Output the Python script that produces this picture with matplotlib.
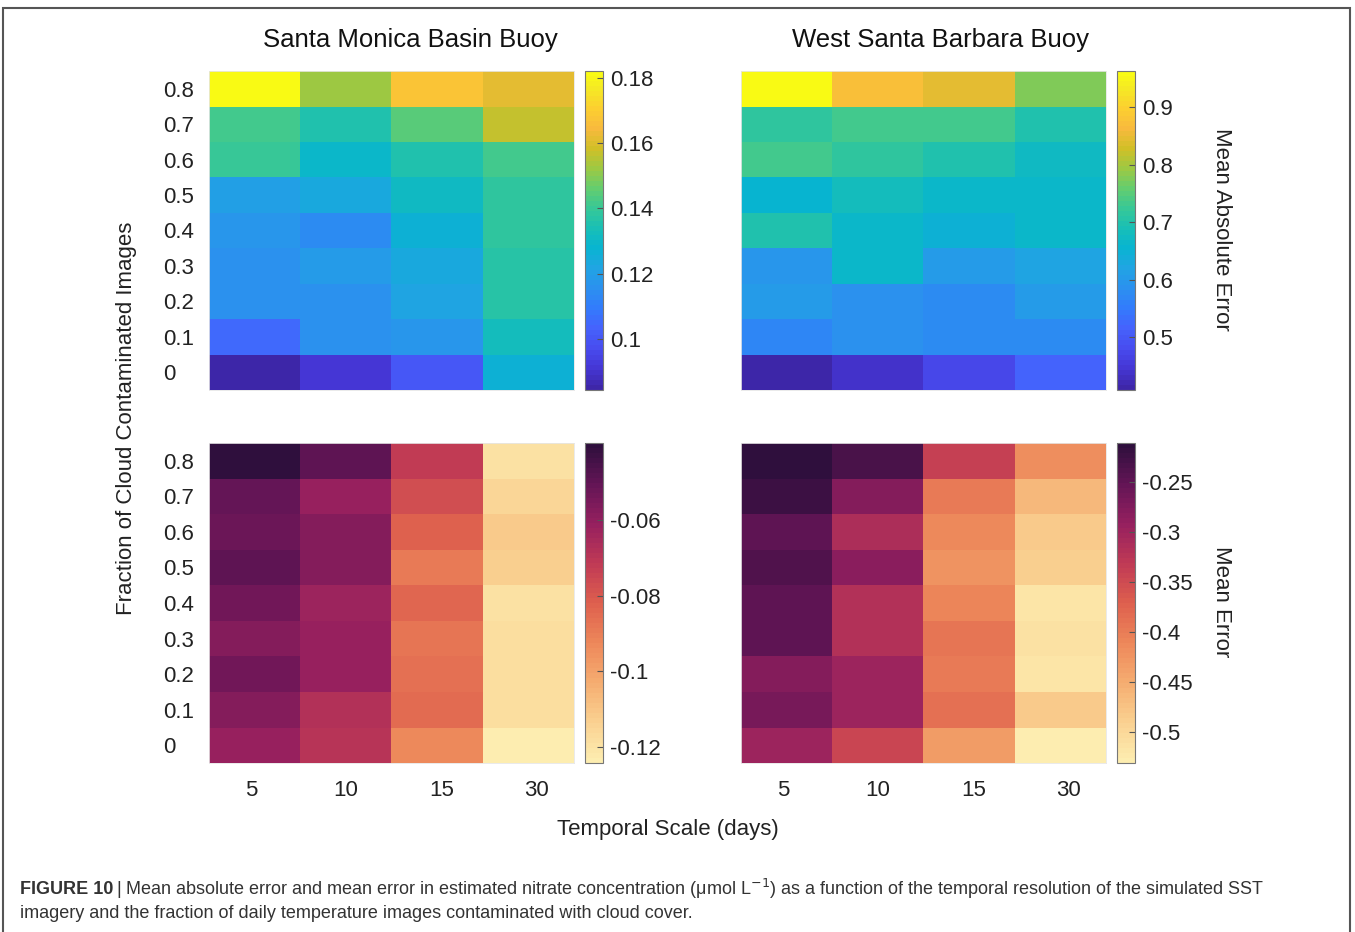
import numpy as np
import matplotlib
matplotlib.use("Agg")
import matplotlib.pyplot as plt
from matplotlib.colors import LinearSegmentedColormap
from matplotlib.patches import Rectangle
from matplotlib.ticker import FormatStrFormatter
from matplotlib import font_manager

plt.rcParams["font.family"] = ["Liberation Sans", "DejaVu Sans"]
plt.rcParams["axes.unicode_minus"] = False

# rows: fraction of cloud contaminated images, columns: temporal scale
frac_labels = ["0", "0.1", "0.2", "0.3", "0.4", "0.5", "0.6", "0.7", "0.8"]
scale_labels = ["5", "10", "15", "30"]

# Santa Monica Basin, mean absolute error (row 0 = fraction 0)
sm_mae = [
    [0.0845, 0.091, 0.100, 0.127],
    [0.105, 0.115, 0.117, 0.133],
    [0.115, 0.115, 0.122, 0.137],
    [0.116, 0.119, 0.124, 0.137],
    [0.118, 0.114, 0.127, 0.139],
    [0.121, 0.124, 0.131, 0.138],
    [0.140, 0.130, 0.136, 0.141],
    [0.141, 0.135, 0.145, 0.157],
    [0.182, 0.153, 0.167, 0.162],
]
# West Santa Barbara, mean absolute error
wsb_mae = [
    [0.408, 0.440, 0.470, 0.520],
    [0.570, 0.590, 0.575, 0.575],
    [0.600, 0.590, 0.575, 0.605],
    [0.595, 0.660, 0.600, 0.620],
    [0.695, 0.665, 0.650, 0.660],
    [0.655, 0.685, 0.665, 0.665],
    [0.735, 0.715, 0.700, 0.675],
    [0.720, 0.735, 0.735, 0.700],
    [0.963, 0.870, 0.850, 0.775],
]
# Santa Monica Basin, mean error
sm_me = [
    [-0.062, -0.070, -0.093, -0.1242],
    [-0.058, -0.068, -0.085, -0.118],
    [-0.053, -0.062, -0.087, -0.118],
    [-0.058, -0.062, -0.088, -0.118],
    [-0.053, -0.063, -0.084, -0.119],
    [-0.050, -0.057, -0.089, -0.113],
    [-0.052, -0.058, -0.082, -0.112],
    [-0.051, -0.062, -0.077, -0.116],
    [-0.0397, -0.050, -0.072, -0.119],
]
# West Santa Barbara, mean error
wsb_me = [
    [-0.297, -0.345, -0.435, -0.531],
    [-0.269, -0.297, -0.390, -0.483],
    [-0.278, -0.297, -0.397, -0.518],
    [-0.249, -0.317, -0.392, -0.515],
    [-0.249, -0.317, -0.409, -0.521],
    [-0.237, -0.285, -0.425, -0.489],
    [-0.246, -0.313, -0.413, -0.483],
    [-0.224, -0.278, -0.397, -0.461],
    [-0.211, -0.233, -0.339, -0.419],
]

sm_mae_ticks = [0.1, 0.12, 0.14, 0.16, 0.18]
wsb_mae_ticks = [0.5, 0.6, 0.7, 0.8, 0.9]
sm_me_ticks = [-0.12, -0.1, -0.08, -0.06]
wsb_me_ticks = [-0.5, -0.45, -0.4, -0.35, -0.3, -0.25]

# parula-like map (64 levels)
parula_pts = [
    (0.2422, 0.1504, 0.6603), (0.2706, 0.2147, 0.8364), (0.2813, 0.3006, 0.9414),
    (0.2699, 0.3892, 0.9906), (0.1963, 0.4847, 0.9892), (0.1687, 0.5703, 0.9359),
    (0.1248, 0.6459, 0.8883), (0.0297, 0.7082, 0.8163), (0.0964, 0.7500, 0.7120),
    (0.2161, 0.7843, 0.5923), (0.3909, 0.8029, 0.4354), (0.6174, 0.7876, 0.2612),
    (0.8203, 0.7498, 0.1535), (0.9728, 0.7298, 0.2394), (0.9892, 0.8136, 0.1885),
    (0.9597, 0.9135, 0.1423), (0.9769, 0.9839, 0.0805),
]
pos = [i * 4 / 63 for i in range(16)] + [1.0]
parula = LinearSegmentedColormap.from_list("parula", list(zip(pos, parula_pts)), N=64)

# light-to-dark "matter"-style map
matter_pts = [(253, 237, 176), (250, 208, 144), (245, 172, 112), (237, 135, 90),
              (222, 95, 78), (192, 58, 85), (150, 32, 95), (100, 21, 86), (47, 15, 61)]
matter = LinearSegmentedColormap.from_list(
    "matter", [tuple(c / 255 for c in p) for p in matter_pts], N=64)

W, H = 1355, 932
fig = plt.figure(figsize=(W / 100, H / 100), dpi=100)


def box(x0, y0, x1, y1):
    return [x0 / W, 1 - y1 / H, (x1 - x0) / W, (y1 - y0) / H]


FS = 16


def heat(rect, crect, z, cmap, ticks, left, bottom):
    ax = fig.add_axes(box(*rect))
    cax = fig.add_axes(box(*crect))
    im = ax.imshow(np.array(z), cmap=cmap, origin="lower", aspect="auto",
                   interpolation="nearest")
    ax.set_yticks(range(len(frac_labels)))
    # x labels sit slightly right of the cell centres
    ax.set_xticks([i * 1.043 - 0.04 for i in range(len(scale_labels))])
    ax.tick_params(length=0, labelsize=FS, colors="#222222")
    if left:
        ax.set_yticklabels(frac_labels)
        ax.tick_params(axis="y", pad=33)
        for t in ax.get_yticklabels():
            t.set_ha("left")
    else:
        ax.set_yticklabels([])
    if bottom:
        ax.set_xticklabels(scale_labels)
        ax.tick_params(axis="x", pad=12)
    else:
        ax.set_xticklabels([])
    for s in ax.spines.values():
        s.set_color("#e6e6e6")
        s.set_linewidth(0.6)
    cb = fig.colorbar(im, cax=cax, ticks=ticks)
    cb.ax.yaxis.set_major_formatter(FormatStrFormatter("%g"))
    cb.ax.tick_params(direction="in", length=4, width=0.8, color="#555555",
                      labelsize=FS, pad=5, labelcolor="#222222")
    cb.outline.set_edgecolor("#777777")
    cb.outline.set_linewidth(0.8)
    return ax, cb


heat((209, 71, 574, 390), (585, 71, 603, 390), sm_mae, parula, sm_mae_ticks, True, False)
heat((741, 71, 1106, 390), (1117, 71, 1135, 390), wsb_mae, parula, wsb_mae_ticks, False, False)
heat((209, 443, 574, 763), (585, 443, 603, 763), sm_me, matter, sm_me_ticks, True, True)
heat((741, 443, 1106, 763), (1117, 443, 1135, 763), wsb_me, matter, wsb_me_ticks, False, True)

fig.text(410 / W, 1 - 40 / H, "Santa Monica Basin Buoy", fontsize=18.5,
         ha="center", va="center", color="#111111")
fig.text(941 / W, 1 - 40 / H, "West Santa Barbara Buoy", fontsize=18.5,
         ha="center", va="center", color="#111111")
fig.text(668 / W, 1 - 829 / H, "Temporal Scale (days)", fontsize=FS,
         ha="center", va="center", color="#222222")
fig.text(127 / W, 1 - 418 / H, "Fraction of Cloud Contaminated Images", fontsize=FS,
         ha="center", va="center", rotation=90, color="#222222")
fig.text(1221 / W, 1 - 229 / H, "Mean Absolute Error", fontsize=FS,
         ha="center", va="center", rotation=-90, color="#222222")
fig.text(1221 / W, 1 - 602 / H, "Mean Error", fontsize=FS,
         ha="center", va="center", rotation=-90, color="#222222")

# outer frame
fig.add_artist(Rectangle((3 / W, -0.02), 1347 / W, 1 - 8 / H + 0.02,
                         transform=fig.transFigure, fill=False,
                         edgecolor="#555555", linewidth=1.5, clip_on=False))

# caption
names = {f.name for f in font_manager.fontManager.ttflist}
cap_family = ["Liberation Sans Narrow"] if "Liberation Sans Narrow" in names else ["Liberation Sans"]
cap_fs = 15 if cap_family[0] == "Liberation Sans Narrow" else 13
head = fig.text(20 / W, 1 - 889 / H, "FIGURE 10", fontsize=cap_fs, fontweight="bold",
                family=cap_family, ha="left", va="center", color="#333333")
fig.canvas.draw()
hx = head.get_window_extent().x1
fig.text((hx + 3) / W, 1 - 889 / H,
         "| Mean absolute error and mean error in estimated nitrate concentration "
         "(\u03bcmol L$^{-1}$) as a function of the temporal resolution of the simulated SST",
         fontsize=cap_fs, family=cap_family, ha="left", va="center", color="#333333")
fig.text(20 / W, 1 - 914 / H,
         "imagery and the fraction of daily temperature images contaminated with cloud cover.",
         fontsize=cap_fs, family=cap_family, ha="left", va="center", color="#333333")

fig.savefig("out.png", dpi=100)
